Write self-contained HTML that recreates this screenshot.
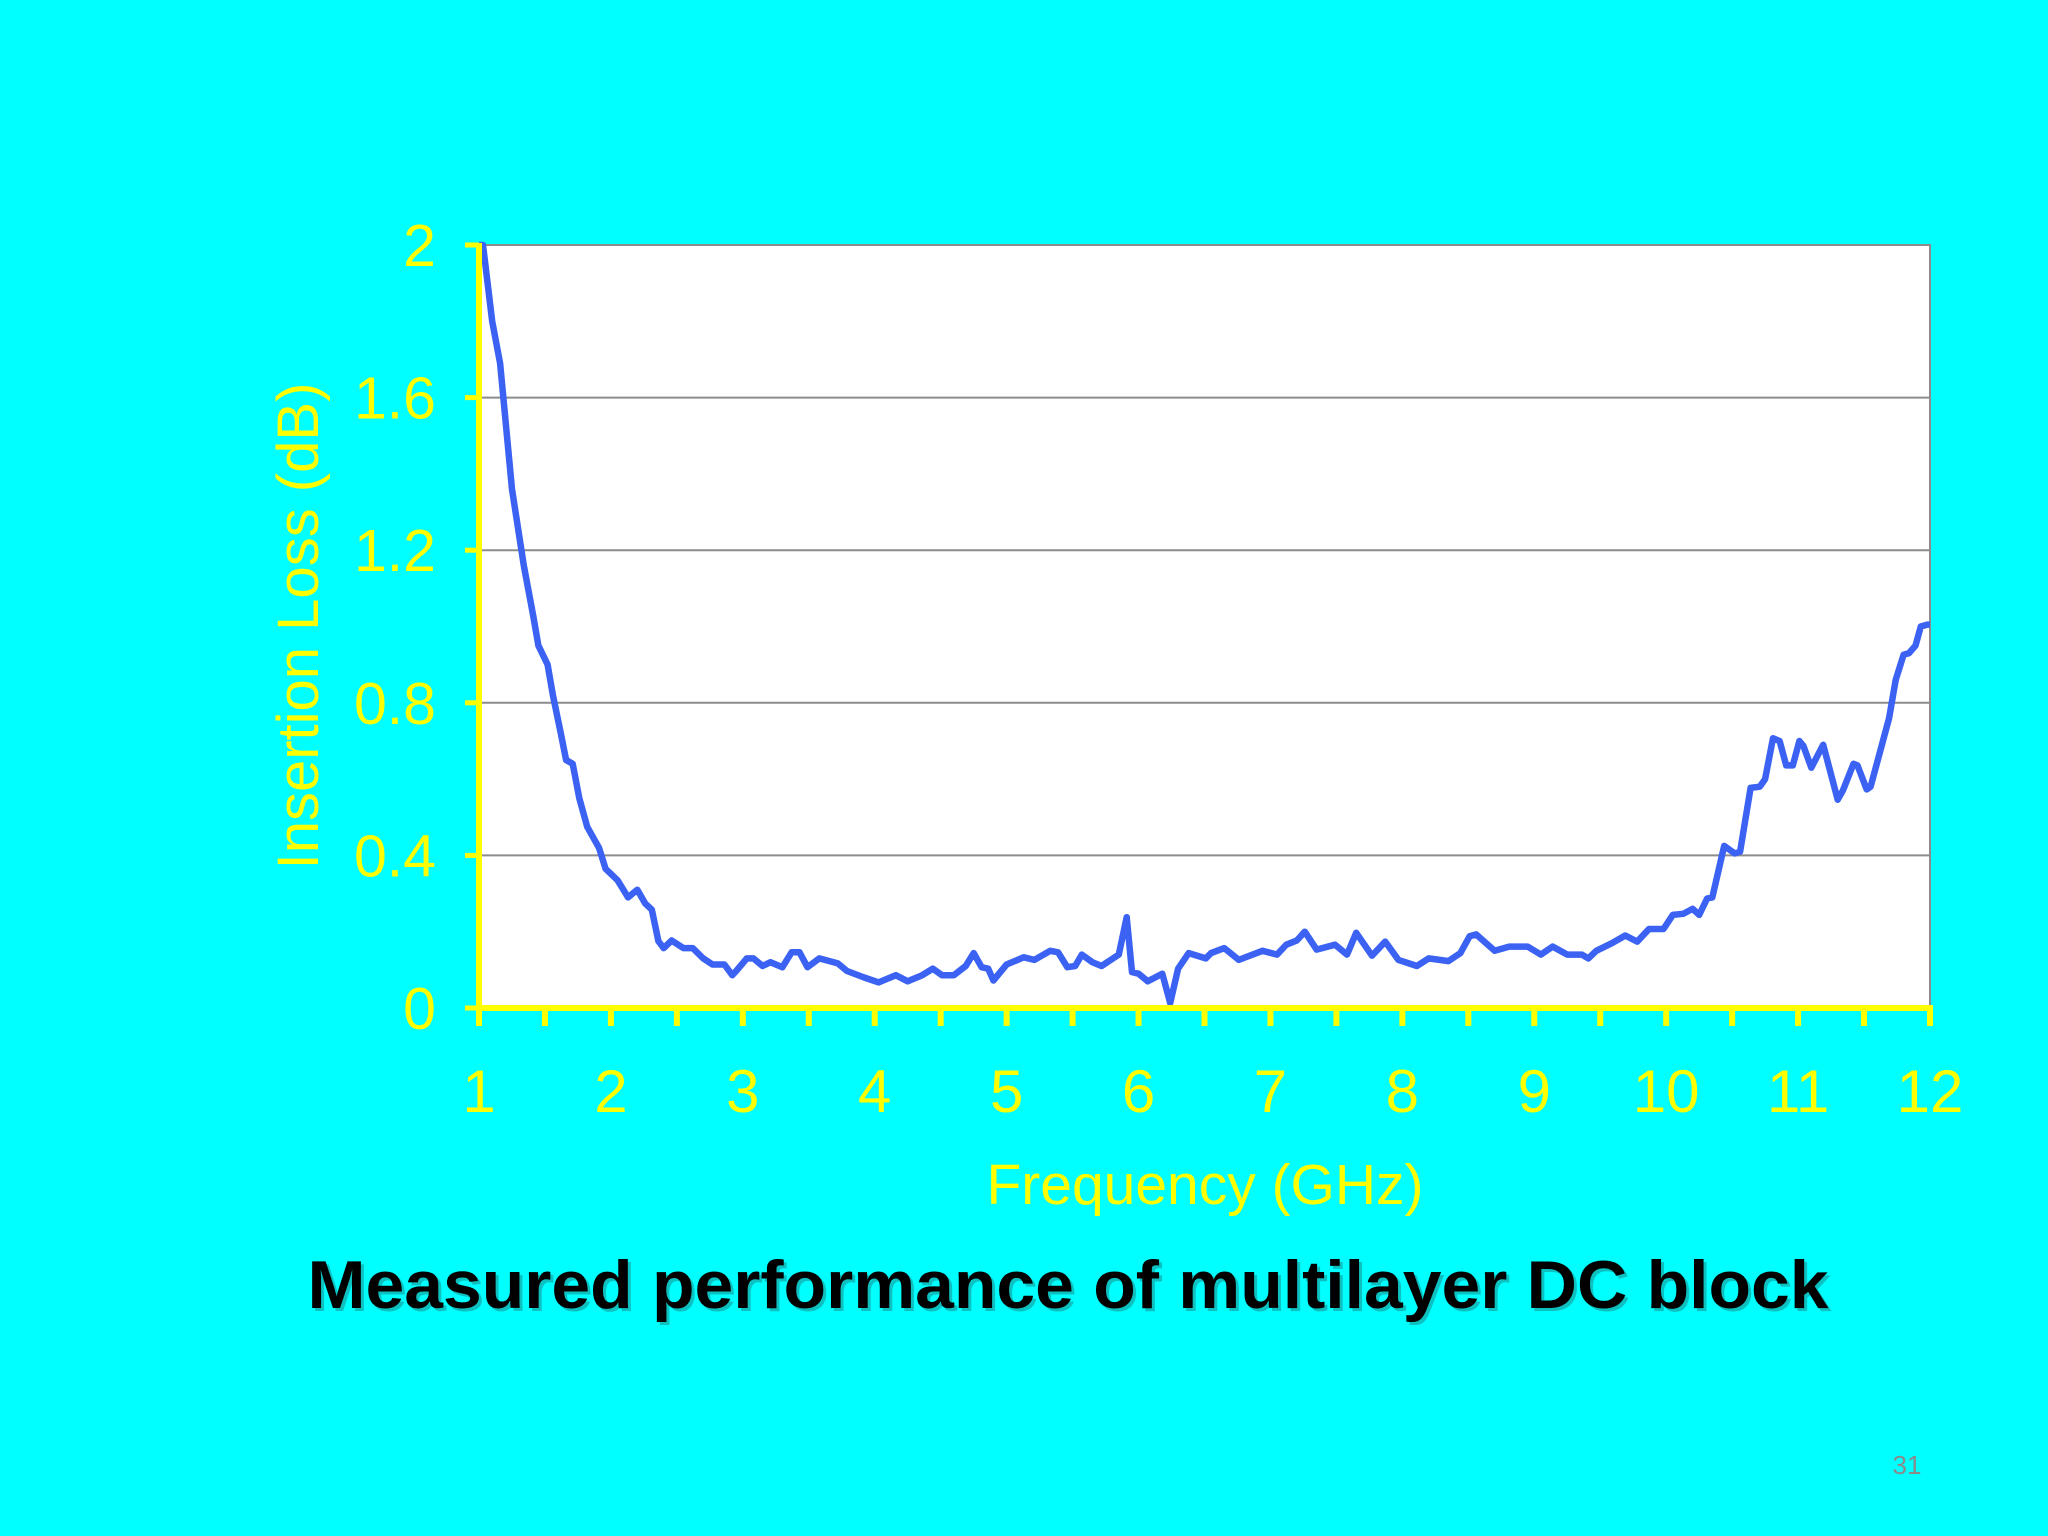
<!DOCTYPE html>
<html><head><meta charset="utf-8"><style>
html,body{margin:0;padding:0;background:#00ffff;}
svg{display:block;}
</style></head><body>
<svg id="chart" width="2048" height="1536" viewBox="0 0 2048 1536" xmlns="http://www.w3.org/2000/svg">
<rect x="0" y="0" width="2048" height="1536" fill="#00ffff"/>
<g id="plot"></g>
<text x="1205" y="1204" font-family="Liberation Sans, sans-serif" font-size="57" fill="#ffff00" text-anchor="middle">Frequency (GHz)</text>
<text x="0" y="0" transform="translate(318,626) rotate(-90)" font-family="Liberation Sans, sans-serif" font-size="58" fill="#ffff00" text-anchor="middle">Insertion Loss (dB)</text>
<text x="1068" y="1308" font-family="Liberation Sans, sans-serif" font-weight="bold" font-size="68" fill="#333" text-anchor="middle" textLength="1521" lengthAdjust="spacingAndGlyphs" opacity="0.3" transform="translate(3,3)">Measured performance of multilayer DC block</text>
<text x="1068" y="1308" font-family="Liberation Sans, sans-serif" font-weight="bold" font-size="68" fill="#000" text-anchor="middle" textLength="1521" lengthAdjust="spacingAndGlyphs">Measured performance of multilayer DC block</text>
<text x="1907" y="1474" font-family="Liberation Sans, sans-serif" font-size="26" fill="#8a8a8a" text-anchor="middle">31</text>
</svg>
<script>
const freqs=[1.0,1.03,1.10,1.16,1.25,1.34,1.41,1.45,1.52,1.56,1.62,1.66,1.71,1.76,1.82,1.91,1.96,2.05,2.13,2.20,2.26,2.31,2.36,2.40,2.46,2.55,2.62,2.70,2.77,2.86,2.92,2.95,3.03,3.08,3.15,3.21,3.30,3.37,3.43,3.49,3.58,3.72,3.79,3.92,4.03,4.16,4.25,4.36,4.44,4.51,4.60,4.69,4.75,4.81,4.86,4.90,5.00,5.13,5.21,5.33,5.39,5.46,5.52,5.57,5.65,5.72,5.85,5.91,5.95,6.00,6.07,6.18,6.24,6.30,6.38,6.51,6.55,6.65,6.76,6.94,7.05,7.12,7.20,7.26,7.35,7.49,7.58,7.65,7.77,7.87,7.97,8.11,8.20,8.35,8.44,8.51,8.56,8.70,8.81,8.95,9.05,9.14,9.25,9.36,9.41,9.47,9.59,9.69,9.78,9.87,9.98,10.05,10.13,10.20,10.25,10.31,10.35,10.44,10.52,10.56,10.64,10.71,10.75,10.81,10.86,10.91,10.96,11.01,11.04,11.10,11.19,11.30,11.34,11.42,11.45,11.52,11.55,11.69,11.74,11.80,11.84,11.89,11.93,11.98,12.0];
const losses=[2.02,2.0,1.80,1.69,1.36,1.16,1.03,0.95,0.90,0.82,0.72,0.65,0.64,0.55,0.475,0.42,0.365,0.335,0.29,0.31,0.274,0.258,0.175,0.157,0.177,0.157,0.157,0.13,0.114,0.114,0.086,0.097,0.13,0.13,0.11,0.12,0.107,0.146,0.146,0.107,0.13,0.117,0.097,0.08,0.067,0.086,0.07,0.086,0.103,0.086,0.086,0.11,0.144,0.107,0.103,0.072,0.114,0.133,0.126,0.15,0.146,0.107,0.11,0.14,0.12,0.11,0.14,0.238,0.094,0.09,0.07,0.09,0.013,0.103,0.144,0.13,0.144,0.157,0.126,0.15,0.14,0.166,0.177,0.20,0.153,0.166,0.14,0.197,0.137,0.174,0.126,0.11,0.13,0.123,0.144,0.188,0.193,0.15,0.161,0.161,0.14,0.161,0.14,0.14,0.13,0.15,0.17,0.19,0.174,0.207,0.207,0.244,0.247,0.26,0.244,0.287,0.29,0.425,0.405,0.41,0.577,0.58,0.60,0.707,0.70,0.636,0.636,0.70,0.687,0.63,0.69,0.546,0.57,0.64,0.636,0.573,0.58,0.76,0.86,0.926,0.93,0.95,1.0,1.005,1.005];
const yTicks=[0,0.4,0.8,1.2,1.6,2];
const yTickLabels=["0","0.4","0.8","1.2","1.6","2"];
const xTicks=[1,2,3,4,5,6,7,8,9,10,11,12];
const xTickLabels=["1","2","3","4","5","6","7","8","9","10","11","12"];

const L=479,R=1930,T=245,B=1008;
const xs=f=>L+(f-1)/11*(R-L);
const ys=v=>B-Math.max(0,Math.min(2,v))/2*(B-T);
const NS="http://www.w3.org/2000/svg";
const g=document.getElementById('plot');
function mk(tag,attrs){const e=document.createElementNS(NS,tag);for(const k in attrs)e.setAttribute(k,attrs[k]);g.appendChild(e);return e;}

let bg=mk('rect',{x:L,y:T,width:R-L,height:B-T,fill:'#ffffff',stroke:'#8c8c8c','stroke-width':2});



yTicks.forEach((v,i)=>{
  if(v>0&&v<2){let gl=mk('line',{x1:L,x2:R,y1:ys(v),y2:ys(v),stroke:'#8c8c8c','stroke-width':2});
  
  }
  let tk=mk('line',{x1:L-14,x2:L,y1:ys(v),y2:ys(v),stroke:'#ffff00','stroke-width':5});
  
  
  let t=mk('text',{x:436,y:ys(v)+21,'font-family':'Liberation Sans, sans-serif','font-size':59,fill:'#ffff00','text-anchor':'end'});
  t.textContent=yTickLabels[i];
  
  
});

let path='';
freqs.forEach((f,i)=>{path+=(i?'L':'M')+xs(f).toFixed(1)+','+ys(losses[i]).toFixed(1);});
let ln=mk('path',{d:path,fill:'none',stroke:'#3b62f2','stroke-width':6.5,'stroke-linejoin':'round'});



let ya=mk('line',{x1:L,x2:L,y1:T-2,y2:B+3,stroke:'#ffff00','stroke-width':6});


let xa=mk('line',{x1:L-3,x2:R+3,y1:B,y2:B,stroke:'#ffff00','stroke-width':6});



for(let f=1;f<=12.001;f+=0.5){
  let tk=mk('line',{x1:xs(f),x2:xs(f),y1:B,y2:B+18,stroke:'#ffff00','stroke-width':6});
  
  
}
xTicks.forEach((f,i)=>{
  let t=mk('text',{x:xs(f),y:1112,'font-family':'Liberation Sans, sans-serif','font-size':60,fill:'#ffff00','text-anchor':'middle'});
  t.textContent=xTickLabels[i];
  
  
});
</script>
</body></html>
